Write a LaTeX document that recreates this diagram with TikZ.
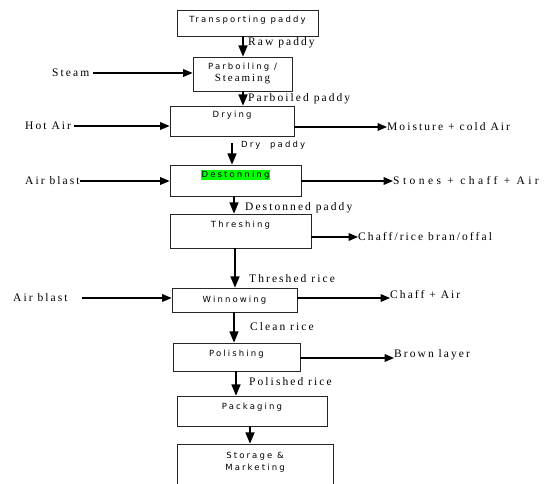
\documentclass[tikz,border=0pt]{standalone}
\usepackage{fontspec}
\setmainfont{Liberation Serif}
\newfontfamily\boxfont[LetterSpace=25]{DejaVu Sans}
\newfontfamily\flowfont[LetterSpace=18]{Liberation Serif}
\newfontfamily\wideflowfont[LetterSpace=30]{Liberation Serif}
\usetikzlibrary{arrows,positioning}

\begin{document}
\begin{tikzpicture}[x=1pt,y=-1pt]
		\tikzset{box/.style = {shape=rectangle, draw=black!85, line width=0.9pt, inner sep=0pt}}
		\tikzset{boxtext/.style = {font=\boxfont\fontsize{8.5}{10}\selectfont, inner sep=0pt}}
		\tikzset{flowtext/.style = {font=\flowfont\fontsize{11.5}{13}\selectfont, inner sep=0pt, anchor=west}}
		\tikzset{down/.style = {-triangle 45, line width=1.6pt}}
		\tikzset{side/.style = {-triangle 45, line width=1.2pt}}

		\useasboundingbox (0,0) rectangle (546,484);
		\clip (0,0) rectangle (546,484);

		% process boxes
		\node[box, minimum width=141pt, minimum height=26pt] (Trans) at (247.5,23) {};
		\node[box, minimum width=99pt, minimum height=34pt] (Parb) at (242.5,74) {};
		\node[box, minimum width=124pt, minimum height=30pt] (Dry) at (232,121) {};
		\node[box, minimum width=131pt, minimum height=31pt] (Dest) at (235.5,180.5) {};
		\node[box, minimum width=141pt, minimum height=34pt] (Thr) at (240.5,231) {};
		\node[box, minimum width=125pt, minimum height=24pt] (Win) at (234.5,300) {};
		\node[box, minimum width=127pt, minimum height=28pt] (Pol) at (236.5,357) {};
		\node[box, minimum width=150pt, minimum height=30pt] (Pack) at (252,411) {};
		\node[box, minimum width=156pt, minimum height=60pt] (Stor) at (255,474) {};

		\node[boxtext, below=6pt of Trans.north] {Transporting paddy};
		\node[boxtext, below=6pt of Parb.north] (Parb_1) {Parboiling /};
		\node[font=\flowfont\fontsize{11}{12}\selectfont, inner sep=0pt, below=3pt of Parb_1] {Steaming};
		\node[boxtext, below=5pt of Dry.north] {Drying};
		\node[boxtext, below=5pt of Dest.north, fill=green, inner sep=1pt] {Destonning};
		\node[boxtext, below=7pt of Thr.north] {Threshing};
		\node[boxtext, below=8pt of Win.north] {Winnowing};
		\node[boxtext, below=7pt of Pol.north] {Polishing};
		\node[boxtext, below=7pt of Pack.north] {Packaging};
		\node[boxtext, below=8pt of Stor.north] (Stor_1) {Storage \&};
		\node[boxtext, below=4pt of Stor_1] {Marketing};

		% main flow
		\draw[down] (Trans.south -| 243,0) to (Parb.north -| 243,0);
		\draw[down] (Parb.south -| 243,0) to (Dry.north -| 243,0);
		\draw[down] ([yshift=-7pt]Dry.south -| 232,0) to (Dest.north -| 232,0);
		\draw[down] (Dest.south -| 234,0) to (Thr.north -| 234,0);
		\draw[down] (Thr.south -| 235,0) to (Win.north -| 235,0);
		\draw[down] (Win.south -| 234,0) to (Pol.north -| 234,0);
		\draw[down] (Pol.south -| 236,0) to (Pack.north -| 236,0);
		\draw[down] (Pack.south -| 250,0) to (Stor.north -| 250,0);

		\node[flowtext] at (248,43) {Raw paddy};
		\node[flowtext] at (248,99) {Parboiled paddy};
		\node[boxtext, anchor=west] at (241,145) {Dry \ paddy};
		\node[flowtext] at (245,208) {Destonned paddy};
		\node[flowtext] at (249,279) {Threshed rice};
		\node[flowtext] at (250,327) {Clean rice};
		\node[flowtext] at (249,382) {Polished rice};

		% inputs
		\node[flowtext] (Steam) at (52,73) {Steam};
		\node[flowtext] (HotAir) at (25,126) {Hot Air};
		\node[flowtext] (Blast_1) at (25,181) {Air blast};
		\node[flowtext] (Blast_2) at (13,298) {Air blast};

		\draw[side] ([xshift=4pt]Steam.east) to (Steam.east -| Parb.west);
		\draw[side] ([xshift=3pt]HotAir.east) to (HotAir.east -| Dry.west);
		\draw[side] (Blast_1.east) to (Blast_1.east -| Dest.west);
		\draw[side] (82,298) to (Blast_2.east -| Win.west);

		% outputs
		\node[flowtext] (Moist) at (387,127) {Moisture + cold Air};
		\node[flowtext, font=\wideflowfont\fontsize{11.5}{13}\selectfont] (Stones) at (393,181) {Stones + chaff + Air};
		\node[flowtext] (Chaff_1) at (358,237) {Chaff/rice bran/offal};
		\node[flowtext] (Chaff_2) at (390,295) {Chaff + Air};
		\node[flowtext] (Brown) at (394,355) {Brown layer};

		\draw[side] (Dry.east |- Moist.west) to (Moist.west);
		\draw[side] (Dest.east |- Stones.west) to (Stones.west);
		\draw[side] (Thr.east |- Chaff_1.west) to (Chaff_1.west);
		\draw[side] (Win.east |- 0,298) to (Chaff_2.west |- 0,298);
		\draw[side] (Pol.east |- 0,358) to (Brown.west |- 0,358);

	\end{tikzpicture}
\end{document}
